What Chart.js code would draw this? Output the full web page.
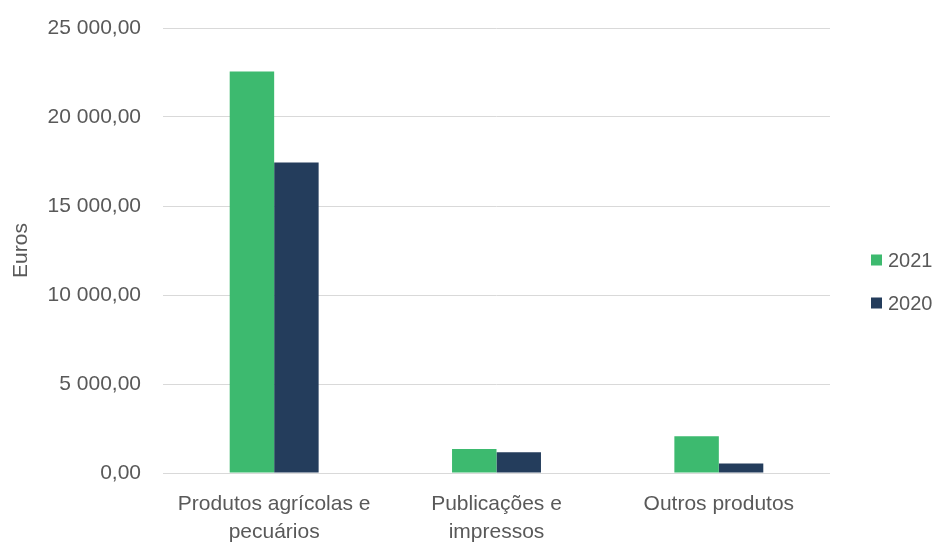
<!DOCTYPE html>
<html>
<head>
<meta charset="utf-8">
<script src="https://cdn.jsdelivr.net/npm/chart.js@4.4.0/dist/chart.umd.min.js"></script>
<style>
  html, body { margin: 0; padding: 0; background: #ffffff; }
  #wrap { width: 935px; height: 543px; }
</style>
</head>
<body>
<div id="wrap"><canvas id="c" width="935" height="543"></canvas></div>
<script>
// Receitas por tipo de produto (euros)
const categories = [
  ['Produtos agrícolas e', 'pecuários'],
  ['Publicações e', 'impressos'],
  ['Outros produtos']
];
const seriesNames = ['2021', '2020'];
const values2021 = [22560, 1350, 2070];
const values2020 = [17450, 1165, 540];
const yTicks = [0, 5000, 10000, 15000, 20000, 25000];

const GREEN = '#3dba6f';
const NAVY = '#243d5c';
const TEXT = '#595959';
const FONT = "'Liberation Sans', Arial, sans-serif";

// "25 000,00" style: space for thousands, comma for decimals
function euroFormat(v) {
  const fixed = Number(v).toFixed(2);
  const [intPart, dec] = fixed.split('.');
  const grouped = intPart.replace(/\B(?=(\d{3})+(?!\d))/g, ' ');
  return grouped + ',' + dec;
}

// Legend drawn at the right edge, one entry per dataset, stacked vertically
const sideLegend = {
  id: 'sideLegend',
  afterDraw(chart) {
    const ctx = chart.ctx;
    const area = chart.chartArea;
    const mid = chart.height / 2 + 10;
    const step = 43;
    const n = chart.data.datasets.length;
    ctx.save();
    ctx.font = '20px ' + FONT;
    ctx.textBaseline = 'middle';
    ctx.textAlign = 'left';
    chart.data.datasets.forEach((ds, i) => {
      const cy = mid + (i - (n - 1) / 2) * step;
      ctx.fillStyle = ds.backgroundColor;
      ctx.fillRect(area.right + 41, cy - 5.5, 11, 11);
      ctx.fillStyle = TEXT;
      ctx.fillText(ds.label, area.right + 58, cy + 1);
    });
    ctx.restore();
  }
};

new Chart(document.getElementById('c'), {
  type: 'bar',
  data: {
    labels: categories,
    datasets: [
      { label: seriesNames[0], data: values2021, backgroundColor: GREEN },
      { label: seriesNames[1], data: values2020, backgroundColor: NAVY }
    ]
  },
  plugins: [sideLegend],
  options: {
    responsive: false,
    animation: false,
    devicePixelRatio: 1,
    datasets: { bar: { categoryPercentage: 0.4, barPercentage: 1.0 } },
    layout: { padding: { left: 0, right: 105, top: 28, bottom: 0 } },
    plugins: {
      legend: { display: false },
      tooltip: { enabled: false }
    },
    scales: {
      x: {
        afterFit: (scale) => { scale.height = 70; },
        grid: { display: false, drawTicks: false },
        border: { display: false },
        ticks: {
          color: TEXT,
          font: { family: FONT, size: 21, lineHeight: 1.3 },
          padding: 18,
          maxRotation: 0,
          autoSkip: false
        }
      },
      y: {
        min: 0,
        max: 25000,
        afterBuildTicks: (scale) => { scale.ticks = yTicks.map(v => ({ value: v })); },
        afterFit: (scale) => {
          scale.width = 163;
          scale.paddingTop = 0;
          scale.paddingBottom = 0;
        },
        grid: { color: '#d9d9d9', lineWidth: 1, drawTicks: false },
        border: { display: false },
        ticks: {
          color: TEXT,
          font: { family: FONT, size: 21 },
          padding: 22,
          callback: (v) => euroFormat(v)
        },
        title: {
          display: true,
          text: 'Euros',
          color: TEXT,
          font: { family: FONT, size: 21 },
          padding: { top: 9, bottom: 0 }
        }
      }
    }
  }
});
</script>
</body>
</html>
